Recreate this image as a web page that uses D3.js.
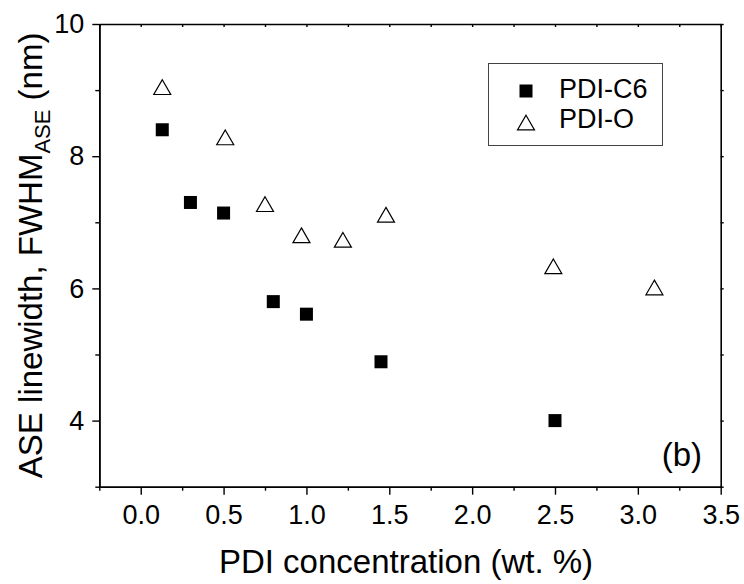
<!DOCTYPE html>
<html>
<head>
<meta charset="utf-8">
<script src="https://cdn.jsdelivr.net/npm/d3@7"></script>
<style>
  body { margin: 0; background: #fff; }
  svg { display: block; font-family: "Liberation Sans", Arial, sans-serif; }
</style>
</head>
<body>
<script>
// data
const c6Conc = [0.13, 0.30, 0.50, 0.80, 1.00, 1.45, 2.50]
const c6Width = [8.40, 7.30, 7.14, 5.80, 5.61, 4.89, 4.00]
const oConc = [0.13, 0.51, 0.75, 0.97, 1.22, 1.48, 2.49, 3.10]
const oWidth = [9.03, 8.27, 7.26, 6.79, 6.72, 7.10, 6.32, 6.00]

const xMajor = [0, 0.5, 1, 1.5, 2, 2.5, 3, 3.5]
const xMinor = [-0.25, 0.25, 0.75, 1.25, 1.75, 2.25, 2.75, 3.25]
const yMajor = [4, 6, 8, 10]
const yMinor = [3, 5, 7, 9]

const width = 744
const height = 584
const mLeft = 99.3, mRight = 720.7, mTop = 24, mBottom = 486.7

const x = d3.scaleLinear().domain([-0.25, 3.5]).range([mLeft, mRight])
const y = d3.scaleLinear().domain([3, 10]).range([mBottom, mTop])

const svg = d3.select("body").append("svg")
    .attr("width", width)
    .attr("height", height)

// axes: bottom/left carry labels, top/right are mirrored short ticks
const axisStroke = (g) => {
  g.select(".domain").attr("stroke", "#000").attr("stroke-width", 1.6)
  g.selectAll(".tick line").attr("stroke", "#000").attr("stroke-width", 1.4)
}

svg.append("g")
    .attr("transform", `translate(0,${mBottom})`)
    .call(d3.axisBottom(x).tickValues(xMajor).tickFormat(d3.format(".1f"))
      .tickSize(8).tickSizeOuter(0).tickPadding(10))
    .call(axisStroke)
    .call(g => g.selectAll("text").attr("font-size", 27).attr("fill", "#000")
      .attr("font-family", "Liberation Sans, Arial, sans-serif"))

svg.append("g")
    .attr("transform", `translate(0,${mBottom})`)
    .call(d3.axisBottom(x).tickValues(xMinor).tickFormat("").tickSize(4).tickSizeOuter(0))
    .call(axisStroke)

svg.append("g")
    .attr("transform", `translate(${mLeft},0)`)
    .call(d3.axisLeft(y).tickValues(yMajor).tickFormat(d3.format("d"))
      .tickSize(7).tickSizeOuter(0).tickPadding(8))
    .call(axisStroke)
    .call(g => g.selectAll("text").attr("font-size", 27).attr("fill", "#000")
      .attr("font-family", "Liberation Sans, Arial, sans-serif"))

svg.append("g")
    .attr("transform", `translate(${mLeft},0)`)
    .call(d3.axisLeft(y).tickValues(yMinor).tickFormat("").tickSize(4).tickSizeOuter(0))
    .call(axisStroke)

svg.append("g")
    .attr("transform", `translate(0,${mTop})`)
    .call(d3.axisBottom(x).tickValues(xMajor.concat(xMinor)).tickFormat("").tickSize(3).tickSizeOuter(0))
    .call(axisStroke)

svg.append("g")
    .attr("transform", `translate(${mRight},0)`)
    .call(d3.axisRight(y).tickValues(yMajor.concat(yMinor)).tickFormat("").tickSize(3).tickSizeOuter(0))
    .call(axisStroke)

// axis titles
svg.append("text")
    .attr("x", (mLeft + mRight) / 2 - 4)
    .attr("y", 573)
    .attr("text-anchor", "middle")
    .attr("font-size", 33)
    .text("PDI concentration (wt. %)")

const yTitle = svg.append("text")
    .attr("transform", `translate(42,${(mTop + mBottom) / 2}) rotate(-90)`)
    .attr("text-anchor", "middle")
    .attr("font-size", 33)
yTitle.append("tspan").text("ASE linewidth, FWHM")
yTitle.append("tspan").attr("font-size", 22).attr("dy", 8).text("ASE")
yTitle.append("tspan").attr("dy", -8).text(" (nm)")

// panel tag
svg.append("text")
    .attr("x", 702)
    .attr("y", 466)
    .attr("text-anchor", "end")
    .attr("font-size", 33)
    .text("(b)")

// markers
const sq = 13
const tri = d3.symbol().type(d3.symbolTriangle).size(125)

svg.append("g")
  .selectAll("rect")
  .data(c6Conc)
  .join("rect")
    .attr("x", (d) => x(d) - sq / 2)
    .attr("y", (d, i) => y(c6Width[i]) - sq / 2)
    .attr("width", sq)
    .attr("height", sq)
    .attr("fill", "#000")

svg.append("g")
  .selectAll("path")
  .data(oConc)
  .join("path")
    .attr("d", tri)
    .attr("transform", (d, i) => `translate(${x(d)},${y(oWidth[i]) + 1.5})`)
    .attr("fill", "#fff")
    .attr("stroke", "#000")
    .attr("stroke-width", 1.2)

// legend
const legend = svg.append("g")
legend.append("rect")
    .attr("x", 488.5).attr("y", 63.5)
    .attr("width", 174).attr("height", 82)
    .attr("fill", "#fff")
    .attr("stroke", "#444")
    .attr("stroke-width", 1)

legend.append("rect")
    .attr("x", 526 - sq / 2).attr("y", 91 - sq / 2)
    .attr("width", sq).attr("height", sq)
    .attr("fill", "#000")
legend.append("path")
    .attr("d", tri)
    .attr("transform", "translate(526,125)")
    .attr("fill", "#fff")
    .attr("stroke", "#000")
    .attr("stroke-width", 1.2)

legend.append("text").attr("x", 559).attr("y", 98).attr("font-size", 27).text("PDI-C6")
legend.append("text").attr("x", 559).attr("y", 128).attr("font-size", 27).text("PDI-O")
</script>
</body>
</html>
